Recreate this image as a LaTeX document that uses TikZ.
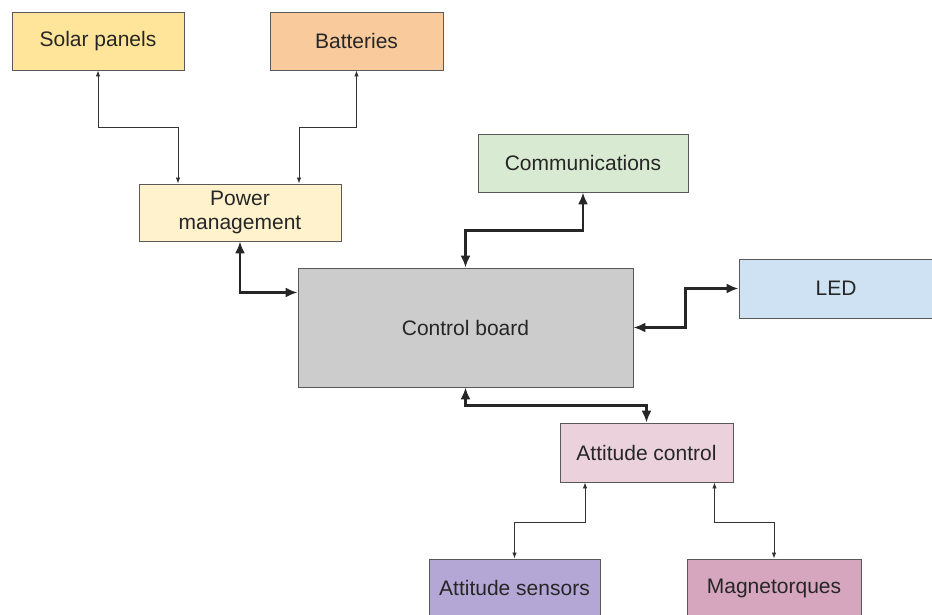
\documentclass[tikz,border=0pt]{standalone}
\usepackage{fontspec}
\setmainfont{Liberation Sans}
\usetikzlibrary{arrows.meta}

\definecolor{solarfill}{HTML}{FFE599}
\definecolor{battfill}{HTML}{F9CB9C}
\definecolor{powerfill}{HTML}{FFF2CC}
\definecolor{commfill}{HTML}{D9EAD3}
\definecolor{ctrlfill}{HTML}{CCCCCC}
\definecolor{ledfill}{HTML}{CFE2F3}
\definecolor{acfill}{HTML}{EAD1DC}
\definecolor{sensfill}{HTML}{B4A7D6}
\definecolor{magfill}{HTML}{D5A6BD}

\tikzstyle{block}=[draw=black!65, line width=0.9pt, font=\fontsize{21}{24}\selectfont, text=black!85, align=center, inner sep=0pt, minimum height=58pt]
\tikzstyle{link}=[line width=0.8pt, draw=black!80, {Latex[length=6pt,width=4.5pt]}-{Latex[length=6pt,width=4.5pt]}]
\tikzstyle{boldlink}=[line width=2.2pt, draw=black!85, {Latex[length=12pt,width=10pt]}-{Latex[length=12pt,width=10pt]}]

\begin{document}
\begin{tikzpicture}[x=1pt, y=-1pt]
      \useasboundingbox (0,0) rectangle (932,614);

      \node[block, fill=solarfill, minimum width=172pt] (solar) at (98, 41) {Solar panels};
      \node[block, fill=battfill, minimum width=173pt] (batt) at (356.5, 41) {Batteries};
      \node[block, fill=powerfill, minimum width=202pt, minimum height=57pt] (power) at (240, 212.5) {Power\\management};
      \node[block, fill=commfill, minimum width=210pt] (comm) at (583, 163) {Communications};
      \node[block, fill=ctrlfill, minimum width=335pt, minimum height=119pt] (ctrl) at (465.5, 327.5) {Control board};
      \node[block, fill=ledfill, minimum width=200pt, minimum height=59pt] (led) at (839, 288.5) {\hspace*{-6pt}LED};
      \node[block, fill=acfill, minimum width=173pt, minimum height=59pt] (ac) at (646.5, 452.5) {Attitude control};
      \node[block, fill=sensfill, minimum width=171pt] (sens) at (514.5, 588) {Attitude sensors};
      \node[block, fill=magfill, minimum width=174pt] (mag) at (774, 588) {Magnetorques};

      % power side
      \draw[link] (solar.south) -- ++(0,57) -| ([xshift=-62pt]power.north);
      \draw[link] (batt.south) -- ++(0,57) -| ([xshift=59pt]power.north);
      \draw[boldlink] (power.south) |- ([yshift=35pt]ctrl.west);

      % control board links
      \draw[boldlink] (comm.south) -- ++(0,38) -| (ctrl.north);
      \draw[boldlink] (led.west) -- ++(-53,0) |- (ctrl.east);
      \draw[boldlink] (ctrl.south) -- ++(0,18) -| (ac.north);

      % attitude side
      \draw[link] ([xshift=-61.5pt]ac.south) -- ++(0,40) -| (sens.north);
      \draw[link] ([xshift=68pt]ac.south) -- ++(0,40) -| (mag.north);
    \end{tikzpicture}
\end{document}
